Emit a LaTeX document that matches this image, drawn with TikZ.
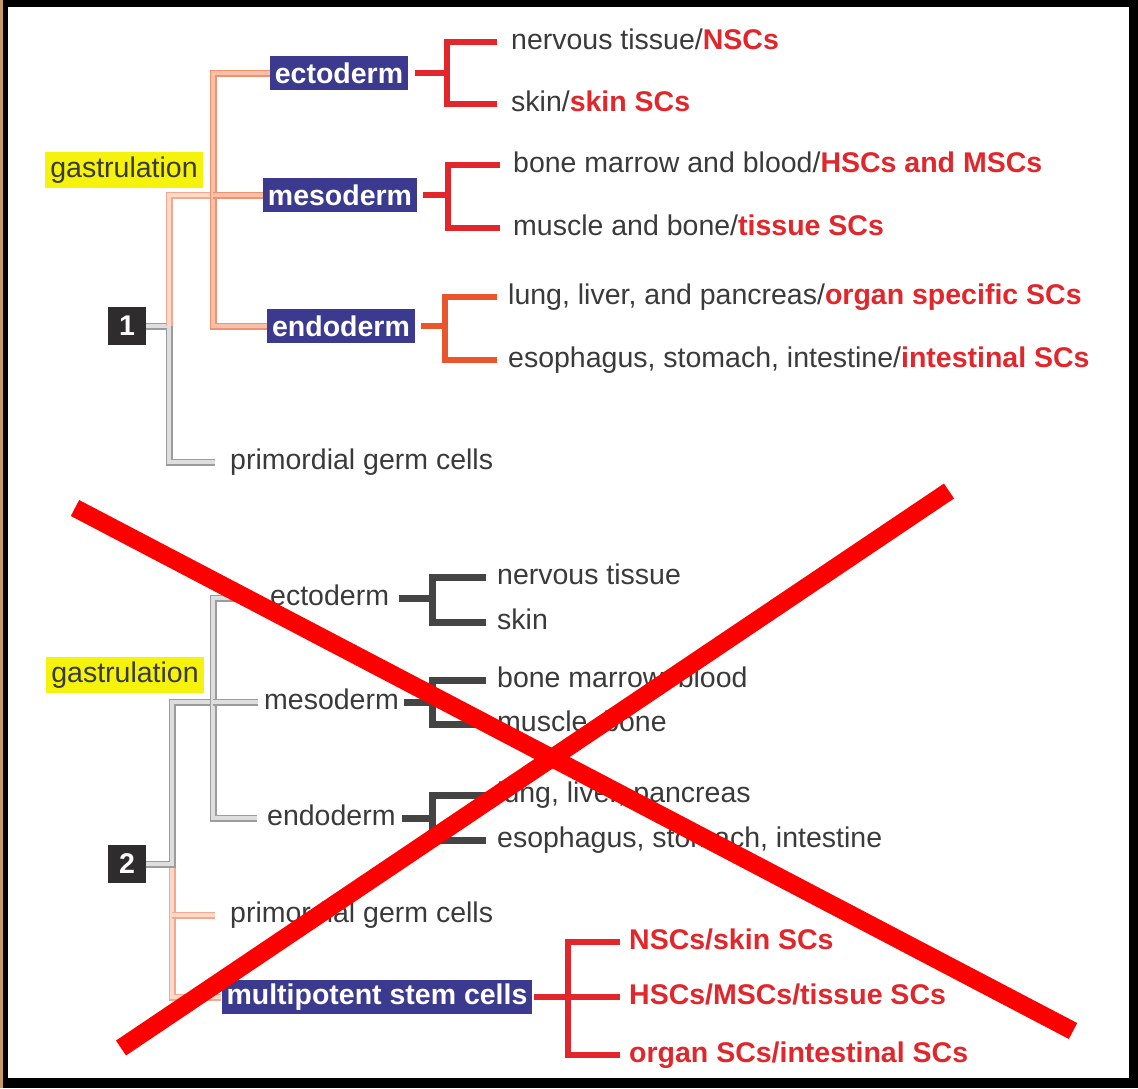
\documentclass[tikz,border=0pt]{standalone}
\usepackage{fontspec}
\setmainfont{Liberation Sans}

\definecolor{navy}{HTML}{3B3A8F}
\definecolor{hilite}{HTML}{F5F20C}
\definecolor{sqgray}{HTML}{2E2C2C}
\definecolor{txtgray}{HTML}{3A3A3A}
\definecolor{scred}{HTML}{E1262C}
\definecolor{endored}{HTML}{E9552C}
\definecolor{salmon}{HTML}{EE9270}
\definecolor{salmonlt}{HTML}{F9BFA8}
\definecolor{blush}{HTML}{F3A98E}
\definecolor{blushlt}{HTML}{FCD9CB}
\definecolor{bargray}{HTML}{444444}
\definecolor{pipegray}{HTML}{9C9C9C}
\definecolor{pipegraylt}{HTML}{DEDEDE}
\definecolor{tan}{HTML}{C99A62}

\newcommand{\stemc}[1]{\textcolor{scred}{\bfseries #1}}

\tikzset{
    germbox/.style={fill=navy, text=white, font=\bfseries, inner xsep=5pt, inner ysep=0pt, minimum height=34pt},
    stagebox/.style={fill=hilite, text=txtgray, inner xsep=5pt, inner ysep=0pt, minimum height=36pt},
    numbox/.style={fill=sqgray, text=white, font=\bfseries, inner sep=0pt, minimum size=38pt},
    lbl/.style={anchor=west, inner sep=0pt, text=txtgray, text height=20pt, text depth=6pt},
    redlbl/.style={lbl, text=scred, font=\bfseries},
    redbar/.style={draw=scred, line width=6.5pt},
    orangebar/.style={draw=endored, line width=6.5pt},
    darkbar/.style={draw=bargray, line width=7pt},
    pinkpipe/.style={draw=salmon, double=salmonlt, line width=1.3pt, double distance=4.4pt},
    blushpipe/.style={draw=blush, double=blushlt, line width=1.3pt, double distance=4.4pt},
    graypipe/.style={draw=pipegray, double=pipegraylt, line width=1.3pt, double distance=4.4pt},
    xline/.style={draw=red, line width=18pt}
}

\begin{document}
\fontsize{28.5}{34}\selectfont
\begin{tikzpicture}[x=1pt, y=-1pt]
    \useasboundingbox (0,0) rectangle (1138,1088);
    % frame
    \fill[black] (0,0) rectangle (1138,1088);
    \fill[tan] (0,0) rectangle (3,1088);
    \fill[white] (8,7) rectangle (1129,1078);

    % scheme 1
    \node[stagebox] (gas1) at (124,170) {gastrulation};
    \node[numbox] (n1) at (127,326) {1};
    \node[germbox] (ecto1) at (339,73) {ectoderm};
    \node[germbox] (meso1) at (340,195) {mesoderm};
    \node[germbox] (endo1) at (341,326) {endoderm};
    \node[lbl] (nerv1) at (511,42) {nervous tissue/\stemc{NSCs}};
    \node[lbl] (skin1) at (511,104) {skin/\stemc{skin SCs}};
    \node[lbl] (bone1) at (513,165) {bone marrow and blood/\stemc{HSCs and MSCs}};
    \node[lbl] (musc1) at (513,228) {muscle and bone/\stemc{tissue SCs}};
    \node[lbl] (lung1) at (508,297) {lung, liver, and pancreas/\stemc{organ specific SCs}};
    \node[lbl] (esop1) at (508,360) {esophagus, stomach, intestine/\stemc{intestinal SCs}};
    \node[lbl] (pgc1) at (230,462) {primordial germ cells};

    \coordinate (split1) at (169,326);
    \coordinate (trunk1) at (213,195);
    \draw[graypipe, shorten >=15pt] (n1.east) -- (split1) |- (pgc1.west);
    \draw[blushpipe] (split1) |- (trunk1);
    \draw[pinkpipe] (ecto1.west) -| (trunk1) |- (endo1.west);
    \draw[pinkpipe] (trunk1) -- (meso1.west);

    \coordinate (ej1) at (447,73);
    \coordinate (mj1) at (448,195);
    \coordinate (nj1) at (445,326);
    \draw[redbar, shorten <=7pt] (ecto1.east) -- (ej1);
    \draw[redbar] ([xshift=-14pt]nerv1.west) -| (ej1) |- ([xshift=-14pt]skin1.west);
    \draw[redbar, shorten <=6pt] (meso1.east) -- (mj1);
    \draw[redbar] ([xshift=-13pt]bone1.west) -| (mj1) |- ([xshift=-13pt]musc1.west);
    \draw[orangebar, shorten <=6pt] (endo1.east) -- (nj1);
    \draw[orangebar] ([xshift=-11pt]lung1.west) -| (nj1) |- ([xshift=-11pt]esop1.west);

    % scheme 2
    \node[stagebox] (gas2) at (125,675) {gastrulation};
    \node[numbox] (n2) at (127,864) {2};
    \node[lbl] (ecto2) at (270,598) {ectoderm};
    \node[lbl] (meso2) at (264,702) {mesoderm};
    \node[lbl] (endo2) at (267,818) {endoderm};
    \node[lbl] (nerv2) at (497,577) {nervous tissue};
    \node[lbl] (skin2) at (497,622) {skin};
    \node[lbl] (bone2) at (497,680) {bone marrow, blood};
    \node[lbl] (musc2) at (497,724) {muscle, bone};
    \node[lbl] (lung2) at (497,795) {lung, liver, pancreas};
    \node[lbl] (esop2) at (497,840) {esophagus, stomach, intestine};
    \node[lbl] (pgc2) at (230,915) {primordial germ cells};
    \node[germbox] (multi) at (377,997) {multipotent stem cells};
    \node[redlbl] (nsc2) at (629,942) {NSCs/skin SCs};
    \node[redlbl] (hsc2) at (629,997) {HSCs/MSCs/tissue SCs};
    \node[redlbl] (org2) at (629,1055) {organ SCs/intestinal SCs};

    \coordinate (split2) at (172,864);
    \coordinate (trunk2) at (213,702);
    \draw[blushpipe] (split2) |- (multi.west);
    \draw[blushpipe, shorten >=15pt] (split2 |- pgc2.west) -- (pgc2.west);
    \draw[graypipe] (n2.east) -- (split2) |- (trunk2);
    \draw[graypipe, shorten <=10pt, shorten >=10pt] (ecto2.west) -| (trunk2) |- (endo2.west);
    \draw[graypipe, shorten >=6pt] (trunk2) -- (meso2.west);

    \coordinate (ej2) at (432,598);
    \coordinate (mj2) at (432,702);
    \coordinate (nj2) at (432,818);
    \draw[darkbar, shorten <=10pt] (ecto2.east) -- (ej2);
    \draw[darkbar] ([xshift=-11pt]nerv2.west) -| (ej2) |- ([xshift=-11pt]skin2.west);
    \draw[darkbar, shorten <=5pt] (meso2.east) -- (mj2);
    \draw[darkbar] ([xshift=-11pt]bone2.west) -| (mj2) |- ([xshift=-11pt]musc2.west);
    \draw[darkbar, shorten <=6pt] (endo2.east) -- (nj2);
    \draw[darkbar] ([xshift=-11pt]lung2.west) -| (nj2) |- ([xshift=-11pt]esop2.west);

    \coordinate (tj2) at (568,997);
    \draw[redbar, shorten <=1pt, shorten >=9pt] (multi.east) -- (hsc2.west);
    \draw[redbar] ([xshift=-9pt]nsc2.west) -| (tj2) |- ([xshift=-9pt]org2.west);

    % crossed out
    \draw[xline] (75,508) -- (1073,1031);
    \draw[xline] (949,491) -- (121,1048);
\end{tikzpicture}
\end{document}
